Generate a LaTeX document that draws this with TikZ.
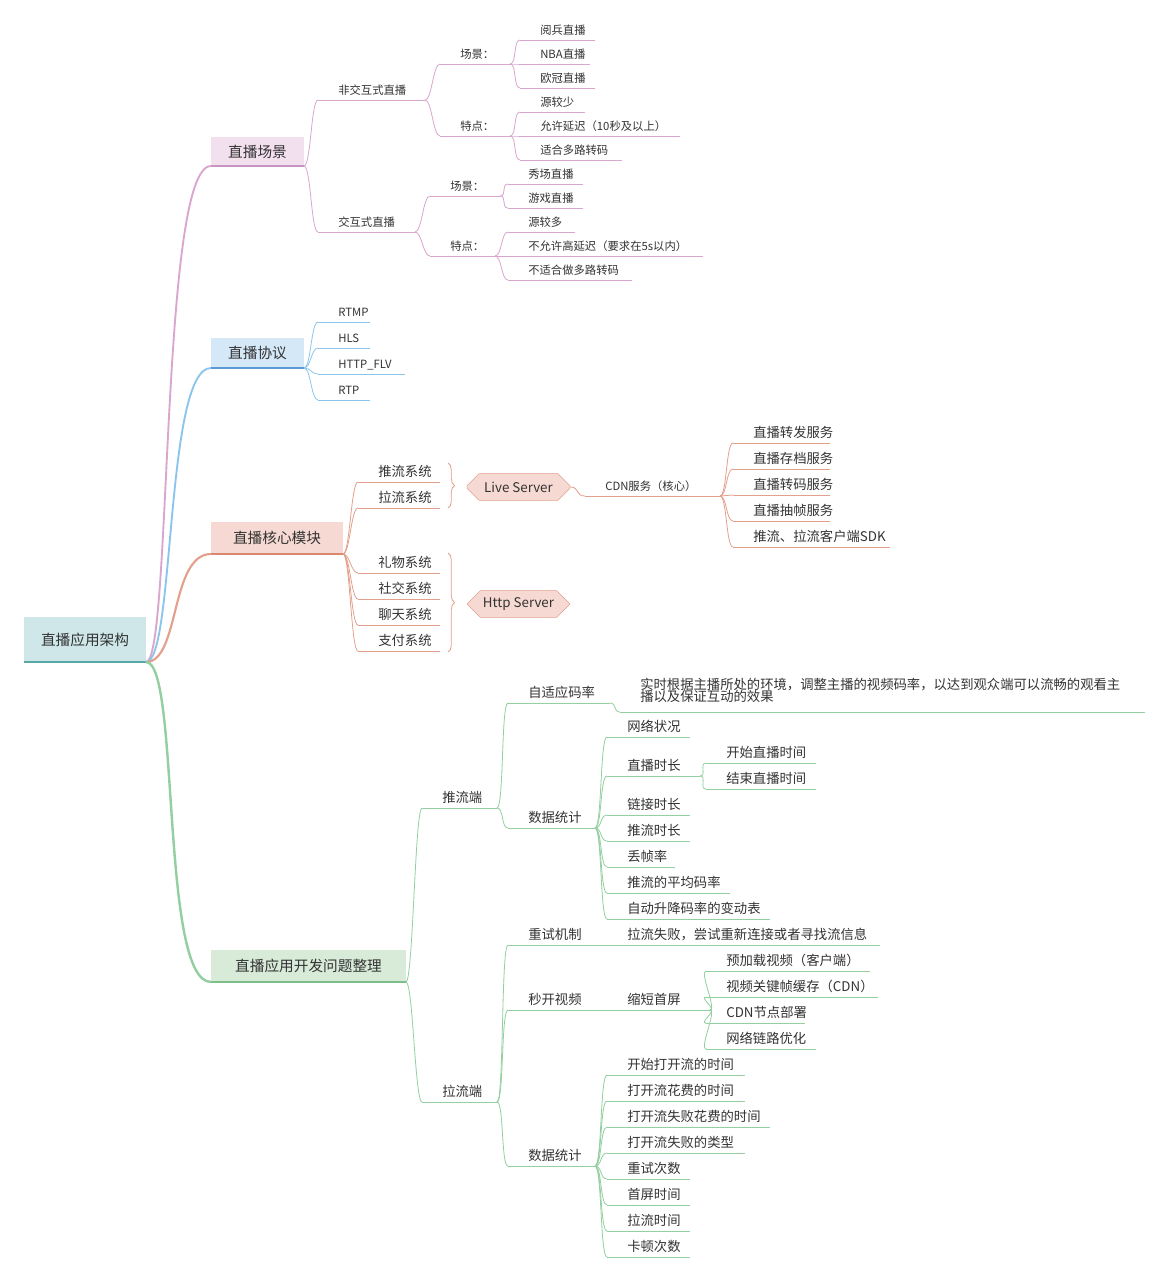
\documentclass[tikz,border=0pt]{standalone}
\usepackage{fontspec}
\setmainfont{Noto Sans CJK SC}
\usetikzlibrary{shapes.misc,decorations.pathreplacing}
\definecolor{pk}{HTML}{D9A6CE}
\definecolor{bl}{HTML}{8CC5EC}
\definecolor{sa}{HTML}{E3A08C}
\definecolor{gr}{HTML}{93CFA0}
\definecolor{txt}{HTML}{333333}
\definecolor{rootf}{HTML}{CFE7E8}\definecolor{rootb}{HTML}{5AA7A8}
\definecolor{af}{HTML}{F3E0EF}\definecolor{ab}{HTML}{C994C0}
\definecolor{bf}{HTML}{D5E8F8}\definecolor{bb}{HTML}{5B9BD5}
\definecolor{cf}{HTML}{F6D9D2}\definecolor{cb}{HTML}{D9886F}
\definecolor{df}{HTML}{D8EBD9}\definecolor{db}{HTML}{7CBF8A}
\newcommand\MM[7]{%
 \coordinate (#1L) at (#2,#4); \coordinate (#1R) at (#3,#4);
 \node[anchor=base west,inner sep=0,text=txt,font=#7] (#1) at (#2+20,#4-6) {#5};
 \draw[#6,line width=0.6pt] (#1L)--(#1R);}
\newcommand\ED[3]{\draw[#3,line width=0.6pt] (#1) .. controls +(7,0) and +(-7,0) .. (#2);}
\newcommand\BX[8]{% name x1 x2 ytop ybot fill bar text
 \fill[#6] (#2,#4) rectangle (#3,#5);
 \node[inner sep=0,text=txt,font=\fontsize{11}{13}\selectfont] (#1) at ({(#2+#3)/2},{(#4+#5)/2}) {#8};
 \coordinate (#1R) at (#3,#5); \coordinate (#1L) at (#2,#5);
 \draw[#7,line width=2.2pt] (#2,#5)--(#3,#5);}
\begin{document}
\begin{tikzpicture}[x=0.75pt,y=-0.75pt]
\useasboundingbox[fill=white] (0,0) rectangle (1166,1278);
\def\s{\fontsize{8.5}{10}\selectfont}
\def\m{\fontsize{10}{12}\selectfont}
% root
\BX{root}{24}{146}{617}{662}{rootf}{rootb}{直播应用架构}
\BX{a}{211}{304}{137}{166}{af}{ab}{直播场景}
\BX{b}{211}{304}{338}{368}{bf}{bb}{直播协议}
\BX{c}{211}{343}{522}{554}{cf}{cb}{直播核心模块}
\BX{d}{211}{406}{950}{982}{df}{db}{直播应用开发问题整理}
\draw[pk,line width=1.4pt] (rootR) .. controls (172,662) and (160,166) .. (aL);
\draw[bl,line width=1.4pt] (rootR) .. controls (175,662) and (165,368) .. (bL);
\draw[sa,line width=1.6pt] (rootR) .. controls (180,662) and (170,554) .. (cL);
\draw[gr,line width=1.8pt] (rootR) .. controls (180,662) and (160,982) .. (dL);
% branch 1
\MM{a1}{318}{425}{100}{非交互式直播}{pk}{\s}
\MM{a11}{440}{510}{64}{场景：}{pk}{\s}
\MM{a111}{520}{595}{40}{阅兵直播}{pk}{\s}
\MM{a112}{520}{590}{64}{NBA直播}{pk}{\s}
\MM{a113}{520}{595}{88}{欧冠直播}{pk}{\s}
\MM{a12}{440}{510}{136}{特点：}{pk}{\s}
\MM{a121}{520}{585}{112}{源较少}{pk}{\s}
\MM{a122}{520}{680}{136}{允许延迟（10秒及以上）}{pk}{\s}
\MM{a123}{520}{622}{160}{适合多路转码}{pk}{\s}
\MM{a2}{318}{415}{232}{交互式直播}{pk}{\s}
\MM{a21}{430}{500}{196}{场景：}{pk}{\s}
\MM{a211}{508}{583}{184}{秀场直播}{pk}{\s}
\MM{a212}{508}{583}{208}{游戏直播}{pk}{\s}
\MM{a22}{430}{495}{256}{特点：}{pk}{\s}
\MM{a221}{508}{575}{232}{源较多}{pk}{\s}
\MM{a222}{508}{703}{256}{不允许高延迟（要求在5s以内）}{pk}{\s}
\MM{a223}{508}{632}{280}{不适合做多路转码}{pk}{\s}
\ED{aR}{a1L}{pk}\ED{aR}{a2L}{pk}
\ED{a1R}{a11L}{pk}\ED{a1R}{a12L}{pk}
\ED{a11R}{a111L}{pk}\ED{a11R}{a112L}{pk}\ED{a11R}{a113L}{pk}
\ED{a12R}{a121L}{pk}\ED{a12R}{a122L}{pk}\ED{a12R}{a123L}{pk}
\ED{a2R}{a21L}{pk}\ED{a2R}{a22L}{pk}
\ED{a21R}{a211L}{pk}\ED{a21R}{a212L}{pk}
\ED{a22R}{a221L}{pk}\ED{a22R}{a222L}{pk}\ED{a22R}{a223L}{pk}
% branch 2
\MM{b1}{318}{370}{322}{RTMP}{bl}{\s}
\MM{b2}{318}{370}{348}{HLS}{bl}{\s}
\MM{b3}{318}{405}{374}{HTTP\_FLV}{bl}{\s}
\MM{b4}{318}{370}{400}{RTP}{bl}{\s}
\ED{bR}{b1L}{bl}\ED{bR}{b2L}{bl}\ED{bR}{b3L}{bl}\ED{bR}{b4L}{bl}
% branch 3
\MM{c1}{358}{440}{482}{推流系统}{sa}{\m}
\MM{c2}{358}{440}{508}{拉流系统}{sa}{\m}
\MM{c3}{358}{440}{573}{礼物系统}{sa}{\m}
\MM{c4}{358}{440}{599}{社交系统}{sa}{\m}
\MM{c5}{358}{440}{625}{聊天系统}{sa}{\m}
\MM{c6}{358}{440}{651}{支付系统}{sa}{\m}
\foreach \k in {1,...,6}{\ED{cR}{c\k L}{sa}}
\draw[sa,line width=0.6pt,decorate,decoration={brace,amplitude=5}] (448,463)--(448,508);
\draw[sa,line width=0.6pt,decorate,decoration={brace,amplitude=5}] (448,553)--(448,652);
\tikzset{srv/.style={chamfered rectangle,chamfered rectangle xsep=5pt,chamfered rectangle ysep=5pt,draw=sa,fill=cf,minimum width=77pt,minimum height=20pt,inner sep=0,text=txt,font=\m}}
\node[srv] (live) at (518.5,487) {Live Server};
\node[srv] (http) at (518.5,604) {Http Server};
\coordinate (cdnL) at (585,496);
\draw[sa,line width=0.6pt] (live.east) .. controls +(10,0) and +(-10,0) .. (cdnL);
\MM{cdn}{585}{720}{496}{CDN服务（核心）}{sa}{\s}
\MM{k1}{733}{830}{443}{直播转发服务}{sa}{\m}
\MM{k2}{733}{830}{469}{直播存档服务}{sa}{\m}
\MM{k3}{733}{830}{495}{直播转码服务}{sa}{\m}
\MM{k4}{733}{830}{521}{直播抽帧服务}{sa}{\m}
\MM{k5}{733}{890}{547}{推流、拉流客户端SDK}{sa}{\m}
\foreach \k in {1,...,5}{\ED{cdnR}{k\k L}{sa}}
% branch 4
\MM{p}{422}{497}{808}{推流端}{gr}{\m}
\MM{p1}{508}{610}{703}{自适应码率}{gr}{\m}
\coordinate (p11L) at (620,712); \coordinate (p11R) at (1145,712);
\node[anchor=north west,inner sep=0,text=txt,font=\m,align=left] (p11) at (640,678) {实时根据主播所处的环境，调整主播的视频码率，以达到观众端可以流畅的观看主\\[-3pt]播以及保证互动的效果};
\draw[gr,line width=0.6pt] (p11L)--(p11R);
\ED{p1R}{p11L}{gr}
\MM{p2}{508}{595}{828}{数据统计}{gr}{\m}
\MM{q1}{607}{690}{737}{网络状况}{gr}{\m}
\MM{q2}{607}{700}{776}{直播时长}{gr}{\m}
\MM{q21}{706}{816}{763}{开始直播时间}{gr}{\m}
\MM{q22}{706}{816}{789}{结束直播时间}{gr}{\m}
\MM{q3}{607}{690}{815}{链接时长}{gr}{\m}
\MM{q4}{607}{690}{841}{推流时长}{gr}{\m}
\MM{q5}{607}{675}{867}{丢帧率}{gr}{\m}
\MM{q6}{607}{730}{893}{推流的平均码率}{gr}{\m}
\MM{q7}{607}{770}{919}{自动升降码率的变动表}{gr}{\m}
\MM{r}{422}{497}{1102}{拉流端}{gr}{\m}
\MM{r1}{508}{610}{945}{重试机制}{gr}{\m}
\MM{r11}{607}{880}{945}{拉流失败，尝试重新连接或者寻找流信息}{gr}{\m}
\MM{r2}{508}{610}{1010}{秒开视频}{gr}{\m}
\MM{r21}{607}{710}{1010}{缩短首屏}{gr}{\m}
\MM{s1}{706}{870}{971}{预加载视频（客户端）}{gr}{\m}
\MM{s2}{706}{878}{997}{视频关键帧缓存（CDN）}{gr}{\m}
\MM{s3}{706}{805}{1023}{CDN节点部署}{gr}{\m}
\MM{s4}{706}{816}{1049}{网络链路优化}{gr}{\m}
\MM{r3}{508}{595}{1166}{数据统计}{gr}{\m}
\MM{t1}{607}{745}{1075}{开始打开流的时间}{gr}{\m}
\MM{t2}{607}{745}{1101}{打开流花费的时间}{gr}{\m}
\MM{t3}{607}{770}{1127}{打开流失败花费的时间}{gr}{\m}
\MM{t4}{607}{745}{1153}{打开流失败的类型}{gr}{\m}
\MM{t5}{607}{690}{1179}{重试次数}{gr}{\m}
\MM{t6}{607}{690}{1205}{首屏时间}{gr}{\m}
\MM{t7}{607}{690}{1231}{拉流时间}{gr}{\m}
\MM{t8}{607}{690}{1257}{卡顿次数}{gr}{\m}
\ED{dR}{pL}{gr}\ED{dR}{rL}{gr}
\ED{pR}{p1L}{gr}\ED{pR}{p2L}{gr}
\foreach \k in {1,...,7}{\ED{p2R}{q\k L}{gr}}
\ED{q2R}{q21L}{gr}\ED{q2R}{q22L}{gr}
\ED{rR}{r1L}{gr}\ED{rR}{r2L}{gr}\ED{rR}{r3L}{gr}
\foreach \k in {1,...,4}{\ED{r21R}{s\k L}{gr}}
\foreach \k in {1,...,8}{\ED{r3R}{t\k L}{gr}}
\end{tikzpicture}
\end{document}
